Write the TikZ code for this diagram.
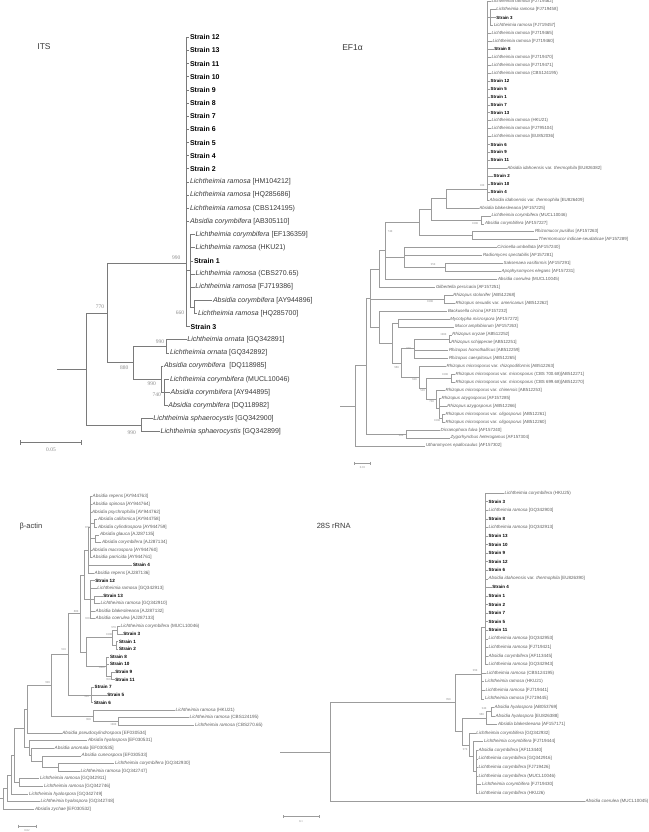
\documentclass[tikz,border=0pt]{standalone}
\usepackage{fontspec}
\setmainfont{Liberation Sans}
\newfontfamily\bsf{Liberation Serif}
\definecolor{lnA}{HTML}{7A7A7A}
\definecolor{lnB}{HTML}{9C9C9C}
\definecolor{spA}{HTML}{3A3A3A}
\definecolor{spB}{HTML}{5E5E5E}
\definecolor{bsc}{HTML}{8C8C8C}
\newcommand\St[1]{\textcolor{black}{\bfseries #1}}
\newcommand\itx[1]{\textit{#1}}
\newcommand\LRa{\textit{Lichtheimia ramosa}}
\newcommand\LCo{\textit{Lichtheimia corymbifera}}
\newcommand\ACo{\textit{Absidia corymbifera}}
\newcommand\Lf[4]{\node[lf] (#1) at (#2,#3) {#4};}
\newcommand\In[3]{\node[inode] (#1) at (#2,#3) {};}
\newcommand\Br[2]{\foreach \kid in {#2}{\draw[brl] (#1.center) |- (\kid.west);}}
\newcommand\Bs[4]{\node[bs] (#1) at (#2,#3) {#4};}
\newcommand\BsI[4]{\node[bsI] (#1) at (#2,#3) {#4};}
\tikzset{
 lf/.style={anchor=west, inner xsep=0.5pt, inner ysep=0pt, text=spB},
 inode/.style={inner sep=0pt, minimum size=0pt, outer sep=0pt},
 bs/.style={text=bsc, inner sep=0pt, font=\bsf\fontsize{3}{3}\selectfont},
 bsI/.style={text=bsc, inner sep=0pt, font=\bsf\fontsize{5.5}{6}\selectfont},
 ttl/.style={inner sep=0pt, text=spA},
 sbar/.style={draw=lnB, line width=0.5pt},
 sblab/.style={inner sep=0pt, text=bsc, font=\bsf\fontsize{3}{3}\selectfont}
}
\begin{document}
\begin{tikzpicture}[x=1pt,y=-1pt]
\useasboundingbox (0,0) rectangle (648,832);
\fill[white] (0,0) rectangle (648,832);

% ================= ITS =================
\node[ttl, font=\fontsize{8.5}{10}\selectfont] (tITS) at (44,47) {ITS};
\begin{scope}[shift={(0pt,-37.3pt)}, y=-13.15pt, font=\fontsize{7}{8}\selectfont,
  brl/.style={draw=lnA, line width=0.7pt}, lf/.append style={text=spA}]
\Lf{t0}{189.3}{0}{\St{Strain 12}}
\Lf{t1}{189.3}{1}{\St{Strain 13}}
\Lf{t2}{189.3}{2}{\St{Strain 11}}
\Lf{t3}{189.3}{3}{\St{Strain 10}}
\Lf{t4}{189.3}{4}{\St{Strain 9}}
\Lf{t5}{189.3}{5}{\St{Strain 8}}
\Lf{t6}{189.3}{6}{\St{Strain 7}}
\Lf{t7}{189.3}{7}{\St{Strain 6}}
\Lf{t8}{189.3}{8}{\St{Strain 5}}
\Lf{t9}{189.3}{9}{\St{Strain 4}}
\Lf{t10}{189.3}{10}{\St{Strain 2}}
\Lf{t11}{189.3}{11}{\LRa{} [HM104212]}
\Lf{t12}{189.3}{12}{\LRa{} [HQ285686]}
\Lf{t13}{189.3}{13}{\LRa{} (CBS124195)}
\Lf{t14}{189.3}{14}{\ACo{} [AB305110]}
\Lf{t15}{195}{15}{\LCo{} [EF136359]}
\Lf{t16}{195}{16}{\LRa{} (HKU21)}
\Lf{t17}{193.3}{17}{\St{Strain 1}}
\Lf{t18}{195}{18}{\LRa{} (CBS270.65)}
\Lf{t19}{194.7}{19}{\LRa{} [FJ719386]}
\Lf{t20}{212.3}{20}{\ACo{} [AY944896]}
\Lf{t21}{197.3}{21}{\LRa{} [HQ285700]}
\Lf{t22}{190}{22}{\St{Strain 3}}
\Lf{t23}{186.7}{23}{\itx{Lichtheimia ornata} [GQ342891]}
\Lf{t24}{169.3}{24}{\itx{Lichtheimia ornata} [GQ342892]}
\Lf{t25}{163.3}{25}{\ACo{}\ \ [DQ118985]}
\Lf{t26}{169.3}{26}{\LCo{} (MUCL10046)}
\Lf{t27}{170}{27}{\ACo{} [AY944895]}
\Lf{t28}{167.7}{28}{\ACo{} [DQ118982]}
\Lf{t29}{152.7}{29}{\itx{Lichtheimia sphaerocystis} [GQ342900]}
\Lf{t30}{160}{30}{\itx{Lichtheimia sphaerocystis} [GQ342899]}
\In{v1}{186}{17.2}
\In{v2}{190.7}{17.75}
\In{n3}{194.3}{20.5}
\In{n107}{107.3}{20.975}
\In{n133}{133.3}{24.75}
\In{orn}{166.7}{23.5}
\In{c161}{161.7}{26}
\In{s164}{164.3}{27}
\In{sph}{141.7}{29.5}
\In{n86}{86}{25.24}
\coordinate (itsR) at (57,25.24);
\Br{v1}{t0,t1,t2,t3,t4,t5,t6,t7,t8,t9,t10,t11,t12,t13,t14,v2,t22}
\Br{v2}{t15,t16,t17,t18,t19,n3}
\Br{n3}{t20,t21}
\Br{n107}{v1,n133}
\Br{n133}{orn,c161}
\Br{orn}{t23,t24}
\Br{c161}{t25,s164}
\Br{s164}{t26,t27,t28}
\Br{sph}{t29,t30}
\Br{n86}{n107,sph}
\draw[brl] (itsR) -- (n86.center);
\end{scope}
\BsI{q1}{176.3}{258}{990}
\BsI{q2}{180}{312.7}{660}
\BsI{q3}{100}{307}{770}
\BsI{q4}{160}{341.3}{990}
\BsI{q5}{124.3}{368}{880}
\BsI{q6}{151.7}{383.3}{990}
\BsI{q7}{156.7}{395}{740}
\BsI{q8}{131.7}{432.3}{990}
\coordinate (sa1) at (20.7,442.7);
\coordinate (sa2) at (81.7,442.7);
\draw[draw=lnA, line width=0.6pt] (sa1) -- (sa2);
\draw[draw=lnA, line width=0.6pt] ([yshift=2.5pt]sa1) -- ([yshift=-2.5pt]sa1);
\draw[draw=lnA, line width=0.6pt] ([yshift=2.5pt]sa2) -- ([yshift=-2.5pt]sa2);
\node[inner sep=0pt, text=bsc, font=\bsf\fontsize{5.5}{6}\selectfont] (sal) at (51,449.5) {0.05};

% ================= EF1a =================
\node[ttl, font=\fontsize{8.5}{10}\selectfont] (tEF) at (352.5,47.7) {EF1α};
\begin{scope}[shift={(0pt,-1.7pt)}, y=-7.93pt, font=\fontsize{4.4}{5}\selectfont,
  brl/.style={draw=lnB, line width=0.45pt}]
\Lf{e0}{491}{0}{\LRa{} [FJ719462]}
\Lf{e1}{495.7}{1}{\LRa{} [FJ719458]}
\Lf{e2}{495.7}{2}{\St{Strain 3}}
\Lf{e3}{493.3}{3}{\LRa{} [FJ719457]}
\Lf{e4}{491}{4}{\LRa{} [FJ719465]}
\Lf{e5}{492}{5}{\LRa{} [FJ719460]}
\Lf{e6}{493.7}{6}{\St{Strain 8}}
\Lf{e7}{491}{7}{\LRa{} [FJ719470]}
\Lf{e8}{491}{8}{\LRa{} [FJ719471]}
\Lf{e9}{491}{9}{\LRa{} (CBS124195)}
\Lf{e10}{490}{10}{\St{Strain 12}}
\Lf{e11}{490}{11}{\St{Strain 5}}
\Lf{e12}{490}{12}{\St{Strain 1}}
\Lf{e13}{490}{13}{\St{Strain 7}}
\Lf{e14}{490}{14}{\St{Strain 13}}
\Lf{e15}{491}{15}{\LRa{} (HKU21)}
\Lf{e16}{491}{16}{\LRa{} [FJ795104]}
\Lf{e17}{491}{17}{\LRa{} [EU852036]}
\Lf{e18}{490}{18}{\St{Strain 6}}
\Lf{e19}{490}{19}{\St{Strain 9}}
\Lf{e20}{490}{20}{\St{Strain 11}}
\Lf{e21}{506.7}{21}{\itx{Absidia idahoensis} var. \itx{thermophila} [EU826382]}
\Lf{e22}{493}{22}{\St{Strain 2}}
\Lf{e23}{490}{23}{\St{Strain 10}}
\Lf{e24}{490}{24}{\St{Strain 4}}
\Lf{e25}{489}{25}{\itx{Absidia idahoensis} var. \itx{thermophila} [EU826409]}
\Lf{e26}{478.7}{26}{\itx{Absidia blakesleeana} [AF157225]}
\Lf{e27}{491}{27}{\LCo{} (MUCL10046)}
\Lf{e28}{484.3}{28}{\ACo{} [AF157227]}
\Lf{e29}{534.3}{29}{\itx{Rhizomucor pusillus} [AF157263]}
\Lf{e30}{538}{30}{\itx{Thermomucor indicae-seudaticae} [AF157289]}
\Lf{e31}{496.7}{31}{\itx{Circinella umbellata} [AF157240]}
\Lf{e32}{482.3}{32}{\itx{Radiomyces spectabilis} [AF157281]}
\Lf{e33}{503}{33}{\itx{Saksenaea vasiformis} [AF157291]}
\Lf{e34}{501}{34}{\itx{Apophysomyces elegans} [AF157231]}
\Lf{e35}{497.3}{35}{\itx{Absidia coerulea} (MUCL10045)}
\Lf{e36}{435.3}{36}{\itx{Gilbertella persicaria} [AF157251]}
\Lf{e37}{452.7}{37}{\itx{Rhizopus stolonifer} [AB512268]}
\Lf{e38}{455}{38}{\itx{Rhizopus sexualis} var. \itx{americanus} [AB512262]}
\Lf{e39}{447.3}{39}{\itx{Backusella circina} [AF157232]}
\Lf{e40}{449.7}{40}{\itx{Mycotypha microspora} [AF157272]}
\Lf{e41}{454.3}{41}{\itx{Mucor amphibiorum} [AF157263]}
\Lf{e42}{451.7}{42}{\itx{Rhizopus oryzae} [AB512252]}
\Lf{e43}{450.7}{43}{\itx{Rhizopus schipperae} [AB512251]}
\Lf{e44}{448.3}{44}{\itx{Rhizopus homothallicus} [AB512259]}
\Lf{e45}{448.3}{45}{\itx{Rhizopus caespitosus} [AB512265]}
\Lf{e46}{446}{46}{\itx{Rhizopus microsporus} var. \itx{rhizopodiformis} [AB512263]}
\Lf{e47}{455}{47}{\itx{Rhizopus microsporus} var. \itx{microsporus} (CBS 700.68)[AB512271]}
\Lf{e48}{455}{48}{\itx{Rhizopus microsporus} var. \itx{microsporus} (CBS 699.68)[AB512270]}
\Lf{e49}{445}{49}{\itx{Rhizopus microsporus} var. \itx{chinensis} [AB512253]}
\Lf{e50}{441}{50}{\itx{Rhizopus azygosporus} [AF157285]}
\Lf{e51}{446.7}{51}{\itx{Rhizopus azygosporus} [AB512266]}
\Lf{e52}{445}{52}{\itx{Rhizopus microsporus} var. \itx{oligosporus} [AB512261]}
\Lf{e53}{445}{53}{\itx{Rhizopus microsporus} var. \itx{oligosporus} [AB512260]}
\Lf{e54}{440}{54}{\itx{Dicranophora fulva} [AF157240]}
\Lf{e55}{450}{55}{\itx{Zygorhynchus heterogamus} [AF157304]}
\Lf{e56}{425.3}{56}{\itx{Utharomyces epallocaulus} [AF157302]}
\In{eM}{487.5}{23.66}
\In{eS1}{490.3}{2}
\In{eNab}{446.7}{24.83}
\In{eNco}{481.7}{27.5}
\In{eNab2}{431.7}{26.17}
\In{eNrt}{472.3}{29.5}
\In{eNL}{419.3}{27.83}
\In{eNsa}{445}{33.5}
\In{eNcs}{404}{32.25}
\In{eN385}{385}{31.4}
\In{eN379}{379}{33.7}
\In{eNst}{444.3}{37.5}
\In{eNmm}{398.3}{40.5}
\In{eNoz}{449.3}{42.5}
\In{eNos}{414}{43.75}
\In{eNmc}{451}{47.5}
\In{eNol}{442.5}{52.5}
\In{eNaz}{439.3}{51.25}
\In{eNcz}{436}{50.1}
\In{eNm2}{426.7}{48.8}
\In{eNm1}{419.3}{47.4}
\In{eNrz}{401.7}{45.6}
\In{eNmr}{392}{43.05}
\In{eNbk}{379}{41}
\In{eNB}{370.7}{37.35}
\In{eND}{406.7}{54.5}
\In{eNA}{366}{45.9}
\In{eR}{355.5}{50.95}
\coordinate (eRs) at (340,50.95);
\Br{eM}{e0,eS1,e4,e5,e6,e7,e8,e9,e10,e11,e12,e13,e14,e15,e16,e17,e18,e19,e20,e21,e22,e23,e24,e25}
\Br{eS1}{e1,e2,e3}
\Br{eNab}{eM,e26}
\Br{eNco}{e27,e28}
\Br{eNab2}{eNab,eNco}
\Br{eNrt}{e29,e30}
\Br{eNL}{eNab2,eNrt}
\Br{eNsa}{e33,e34}
\Br{eNcs}{e31,e32,eNsa}
\Br{eN385}{eNL,eNcs,e35}
\Br{eN379}{eN385,e36}
\Br{eNst}{e37,e38}
\Br{eNmm}{e40,e41}
\Br{eNoz}{e42,e43}
\Br{eNos}{eNoz,e44,e45}
\Br{eNmc}{e47,e48}
\Br{eNol}{e52,e53}
\Br{eNaz}{e50,e51,eNol}
\Br{eNcz}{e49,eNaz}
\Br{eNm2}{eNmc,eNcz}
\Br{eNm1}{e46,eNm2}
\Br{eNrz}{eNos,eNm1}
\Br{eNmr}{eNmm,eNrz}
\Br{eNbk}{e39,eNmr}
\Br{eNB}{eN379,eNst,eNbk}
\Br{eND}{e54,e55}
\Br{eNA}{eNB,eND}
\Br{eR}{eNA,e56}
\draw[brl] (eRs) -- (eR.center);
\end{scope}
\Bs{f1}{482}{186}{100}
\Bs{f2}{475}{223.7}{1000}
\Bs{f3}{390}{232}{740}
\Bs{f4}{433}{265}{950}
\Bs{f5}{430}{302}{1000}
\Bs{f6}{443.3}{335}{1000}
\Bs{f7}{408.5}{348.3}{970}
\Bs{f8}{396.7}{367.3}{980}
\Bs{f9}{445}{375}{1000}
\Bs{f10}{414.3}{379.3}{940}
\Bs{f11}{422.7}{391}{520}
\Bs{f12}{431.7}{401.3}{760}
\Bs{f13}{437}{421}{1000}
\Bs{f14}{401}{436}{980}
\coordinate (sb1) at (354.3,463.3);
\coordinate (sb2) at (370.7,463.3);
\draw[sbar] (sb1) -- (sb2);
\draw[sbar] ([yshift=1.5pt]sb1) -- ([yshift=-1.5pt]sb1);
\draw[sbar] ([yshift=1.5pt]sb2) -- ([yshift=-1.5pt]sb2);
\node[sblab] (sbl) at (362.5,468) {0.01};

% ================= beta-actin =================
\node[ttl, font=\fontsize{7.5}{9}\selectfont] (tBA) at (31,526.7) {β-actin};
\begin{scope}[shift={(0pt,-496.7pt)}, y=-7.62pt, font=\fontsize{4.6}{5}\selectfont,
  brl/.style={draw=lnB, line width=0.45pt}]
\Lf{b0}{92}{0}{\itx{Absidia repens} [AY944763]}
\Lf{b1}{92}{1}{\itx{Absidia spinosa} [AY944764]}
\Lf{b2}{91.3}{2}{\itx{Absidia psychrophilia} [AY944762]}
\Lf{b3}{97.3}{3}{\itx{Absidia californica} [AY944758]}
\Lf{b4}{97.3}{4}{\itx{Absidia cylindrospora} [AY944759]}
\Lf{b5}{99.3}{5}{\itx{Absidia glauca} [AJ287135]}
\Lf{b6}{101.3}{6}{\ACo{} [AJ287134]}
\Lf{b7}{91.3}{7}{\itx{Absidia macrospora} [AY944760]}
\Lf{b8}{92}{8}{\itx{Absidia parricida} [AY944761]}
\Lf{b9}{132.3}{9}{\St{Strain 4}}
\Lf{b10}{94}{10}{\itx{Absidia repens} [AJ287136]}
\Lf{b11}{94.7}{11}{\St{Strain 12}}
\Lf{b12}{96.7}{12}{\LRa{} [GQ342913]}
\Lf{b13}{102.7}{13}{\St{Strain 13}}
\Lf{b14}{100}{14}{\LRa{} [GQ342910]}
\Lf{b15}{95}{15}{\itx{Absidia blakesleeana} [AJ287132]}
\Lf{b16}{95}{16}{\itx{Absidia coerulea} [AJ287133]}
\Lf{b17}{120}{17}{\LCo{} (MUCL10046)}
\Lf{b18}{122.7}{18}{\St{Strain 3}}
\Lf{b19}{118.3}{19}{\St{Strain 1}}
\Lf{b20}{118.3}{20}{\St{Strain 2}}
\Lf{b21}{109.3}{21}{\St{Strain 8}}
\Lf{b22}{109.3}{22}{\St{Strain 10}}
\Lf{b23}{114.7}{23}{\St{Strain 9}}
\Lf{b24}{114.7}{24}{\St{Strain 11}}
\Lf{b25}{94}{25}{\St{Strain 7}}
\Lf{b26}{106.7}{26}{\St{Strain 5}}
\Lf{b27}{93.3}{27}{\St{Strain 6}}
\Lf{b28}{175}{28}{\LRa{} (HKU21)}
\Lf{b29}{189}{29}{\LRa{} (CBS124195)}
\Lf{b30}{194.3}{30}{\LRa{} (CBS270.65)}
\Lf{b31}{61.7}{31}{\itx{Absidia pseudocylindrospora} [EF030534]}
\Lf{b32}{87.3}{32}{\itx{Absidia hyalospora} [EF030531]}
\Lf{b33}{54}{33}{\itx{Absidia anomala} [EF030535]}
\Lf{b34}{81}{34}{\itx{Absidia cuneospora} [EF030533]}
\Lf{b35}{114.3}{35}{\LCo{} [GQ342930]}
\Lf{b36}{80}{36}{\LRa{} [GQ342747]}
\Lf{b37}{39.3}{37}{\LRa{} [GQ342911]}
\Lf{b38}{43.3}{38}{\LRa{} [GQ342746]}
\Lf{b39}{28.3}{39}{\itx{Lichtheimia hyalospora} [GQ342749]}
\Lf{b40}{40}{40}{\itx{Lichtheimia hyalospora} [GQ342748]}
\Lf{b41}{34.3}{41}{\itx{Absidia zychae} [EF030532]}
\In{bNcc}{94.3}{3.5}
\In{bNgc}{95}{5.5}
\In{bNa1}{90.7}{4}
\In{bNa2}{88.3}{7}
\In{bN13}{94}{13.5}
\In{bNa3}{90.7}{13.5}
\In{bNabs}{84}{10.25}
\In{bNm3}{117.3}{17.5}
\In{bN12}{116}{19.5}
\In{bNc3}{112}{18.5}
\In{bN911}{111}{23.5}
\In{bNc8}{106.7}{22.25}
\In{bNstr}{86}{20.375}
\In{bNtop}{80}{15.31}
\In{bN756}{91}{26}
\In{bNmid}{68.3}{20.66}
\In{bNcbs}{118.3}{29.5}
\In{bNhku}{93.3}{28.75}
\In{bNbig}{51.7}{24.7}
\In{bN5}{27.7}{27.85}
\In{bNlc}{58.3}{35.5}
\In{bNcu}{42.7}{34.75}
\In{bNan}{31.7}{33.875}
\In{bNh}{29.3}{32.94}
\In{bN4}{24}{30.4}
\In{bNr}{19}{37.5}
\In{bN3}{14.3}{33.95}
\In{bN2}{11}{36.5}
\In{bN1}{7.3}{38.25}
\In{bR}{3.3}{39.6}
\coordinate (bRs) at (0,39.6);
\Br{bNcc}{b3,b4}
\Br{bNgc}{b5,b6}
\Br{bNa1}{b0,b1,b2,bNcc,bNgc,b7,b8}
\Br{bNa2}{bNa1,b9,b10}
\Br{bN13}{b13,b14}
\Br{bNa3}{b11,b12,bN13,b15,b16}
\Br{bNabs}{bNa2,bNa3}
\Br{bNm3}{b17,b18}
\Br{bN12}{b19,b20}
\Br{bNc3}{bNm3,bN12}
\Br{bN911}{b23,b24}
\Br{bNc8}{b21,b22,bN911}
\Br{bNstr}{bNc3,bNc8}
\Br{bNtop}{bNabs,bNstr}
\Br{bN756}{b25,b26,b27}
\Br{bNmid}{bNtop,bN756}
\Br{bNcbs}{b29,b30}
\Br{bNhku}{b28,bNcbs}
\Br{bNbig}{bNmid,bNhku}
\Br{bN5}{bNbig,b31}
\Br{bNlc}{b35,b36}
\Br{bNcu}{b34,bNlc}
\Br{bNan}{b33,bNcu}
\Br{bNh}{b32,bNan}
\Br{bN4}{bN5,bNh}
\Br{bNr}{b37,b38}
\Br{bN3}{bN4,bNr}
\Br{bN2}{bN3,b39}
\Br{bN1}{bN2,b40}
\Br{bR}{bN1,b41}
\draw[brl] (bRs) -- (bR.center);
\end{scope}
\Bs{g1}{76}{611.7}{880}
\Bs{g2}{63.5}{650}{910}
\Bs{g3}{47.7}{682.3}{990}
\Bs{g4}{109}{635}{1000}
\Bs{g5}{113.5}{628}{970}
\Bs{g6}{101.7}{667.3}{1000}
\Bs{g7}{108.3}{679.3}{960}
\Bs{g8}{86.5}{696.5}{990}
\Bs{g9}{88.3}{719.3}{900}
\Bs{g10}{113.3}{724.3}{1000}
\Bs{g11}{87.3}{618.3}{920}
\Bs{g12}{87.3}{527.7}{870}
\coordinate (sc1) at (18.3,826);
\coordinate (sc2) at (36,826);
\draw[sbar] (sc1) -- (sc2);
\draw[sbar] ([yshift=1.5pt]sc1) -- ([yshift=-1.5pt]sc1);
\draw[sbar] ([yshift=1.5pt]sc2) -- ([yshift=-1.5pt]sc2);
\node[sblab] (scl) at (27,830.3) {0.02};

% ================= 28S rRNA =================
\node[ttl, font=\fontsize{7.5}{9}\selectfont] (t28) at (333.7,525.5) {28S rRNA};
\begin{scope}[shift={(0pt,-493pt)}, y=-8.575pt, font=\fontsize{4.5}{5}\selectfont,
  brl/.style={draw=lnB, line width=0.45pt}]
\Lf{r0}{504}{0}{\LCo{} (HKU25)}
\Lf{r1}{488}{1}{\St{Strain 3}}
\Lf{r2}{488}{2}{\LRa{} [GQ342903]}
\Lf{r3}{488}{3}{\St{Strain 8}}
\Lf{r4}{488}{4}{\LRa{} [GQ342913]}
\Lf{r5}{488}{5}{\St{Strain 13}}
\Lf{r6}{488}{6}{\St{Strain 10}}
\Lf{r7}{488}{7}{\St{Strain 9}}
\Lf{r8}{488}{8}{\St{Strain 12}}
\Lf{r9}{488}{9}{\St{Strain 6}}
\Lf{r10}{488}{10}{\itx{Absidia idahoensis} var. \itx{thermophila} [EU826390]}
\Lf{r11}{491.7}{11}{\St{Strain 4}}
\Lf{r12}{488}{12}{\St{Strain 1}}
\Lf{r13}{488}{13}{\St{Strain 2}}
\Lf{r14}{488}{14}{\St{Strain 7}}
\Lf{r15}{488}{15}{\St{Strain 5}}
\Lf{r16}{488}{16}{\St{Strain 11}}
\Lf{r17}{488}{17}{\LRa{} [GQ342953]}
\Lf{r18}{488}{18}{\LRa{} [FJ719421]}
\Lf{r19}{488}{19}{\ACo{} [AF113445]}
\Lf{r20}{488}{20}{\LRa{} [GQ342943]}
\Lf{r21}{486}{21}{\LRa{} (CBS124195)}
\Lf{r22}{484.3}{22}{\LRa{} (HKU21)}
\Lf{r23}{485}{23}{\LRa{} [FJ719441]}
\Lf{r24}{484.3}{24}{\LRa{} [FJ719445]}
\Lf{r25}{494}{25}{\itx{Absidia hyalospora} [AB053769]}
\Lf{r26}{495}{26}{\itx{Absidia hyalospora} [EU826388]}
\Lf{r27}{497.3}{27}{\itx{Absidia blakesleeana} [AF157171]}
\Lf{r28}{475.7}{28}{\LCo{} [GQ342932]}
\Lf{r29}{483.3}{29}{\LCo{} [FJ719444]}
\Lf{r30}{478}{30}{\ACo{} [AF113440]}
\Lf{r31}{478}{31}{\LCo{} [GQ342916]}
\Lf{r32}{478}{32}{\LCo{} [FJ719426]}
\Lf{r33}{478}{33}{\LCo{} (MUCL10046)}
\Lf{r34}{481.3}{34}{\LCo{} [FJ719430]}
\Lf{r35}{478}{35}{\LCo{} (HKU26)}
\Lf{r36}{585}{36}{\itx{Absidia coerulea} (MUCL10045)}
\In{rNm}{485.7}{15.6}
\In{rNr2}{481.7}{21.1}
\In{rNhh}{491.5}{25.5}
\In{rNhy}{486.7}{26.25}
\In{rNc2}{476.3}{32.5}
\In{rNc1}{473.3}{30.75}
\In{rNcl}{469.3}{29.375}
\In{rNcor}{462.7}{27.8}
\In{rNL}{455}{24.45}
\In{rR}{330}{30.2}
\coordinate (rRs) at (280,30.2);
\Br{rNm}{r0,r1,r2,r3,r4,r5,r6,r7,r8,r9,r10,r11,r12,r13,r14,r15,r16,r17,r18,r19,r20}
\Br{rNr2}{rNm,r21,r22,r23,r24}
\Br{rNhh}{r25,r26}
\Br{rNhy}{rNhh,r27}
\Br{rNc2}{r30,r31,r32,r33,r34,r35}
\Br{rNc1}{r29,rNc2}
\Br{rNcl}{r28,rNc1}
\Br{rNcor}{rNhy,rNcl}
\Br{rNL}{rNr2,rNcor}
\Br{rR}{rNL,r36}
\draw[brl] (rRs) -- (rR.center);
\end{scope}
\Bs{h1}{475}{671}{990}
\Bs{h2}{448.3}{700}{990}
\Bs{h3}{484}{708.5}{940}
\Bs{h4}{481.7}{715}{980}
\Bs{h5}{465}{749.3}{970}
\coordinate (sd1) at (283.3,816.7);
\coordinate (sd2) at (319.3,816.7);
\draw[sbar] (sd1) -- (sd2);
\draw[sbar] ([yshift=1.5pt]sd1) -- ([yshift=-1.5pt]sd1);
\draw[sbar] ([yshift=1.5pt]sd2) -- ([yshift=-1.5pt]sd2);
\node[sblab] (sdl) at (301,821.3) {0.1};
\end{tikzpicture}
\end{document}
